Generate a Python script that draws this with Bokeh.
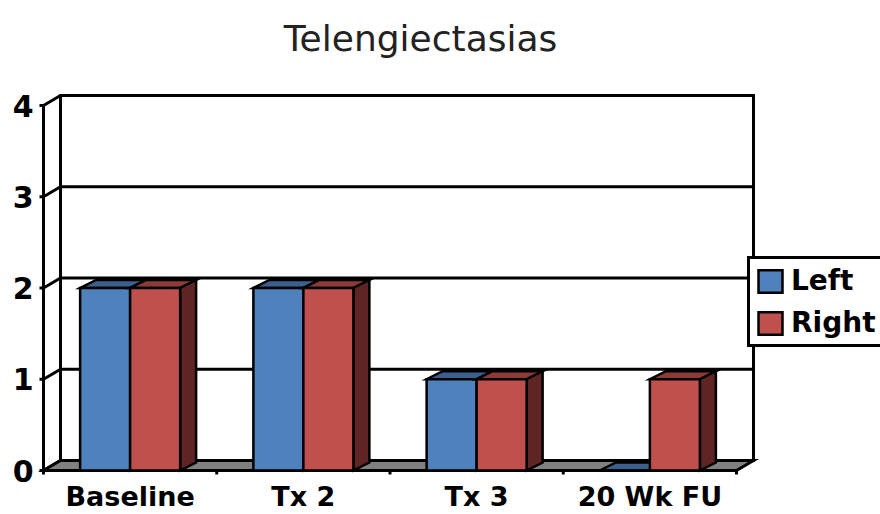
import numpy as np
from bokeh.plotting import figure
from bokeh.models import Range1d, Label, Legend, LegendItem
from bokeh.core.properties import value
from bokeh.embed import file_html
from bokeh.resources import INLINE

# ---- data ----
title_text = "Telengiectasias"
categories = ["Baseline", "Tx 2", "Tx 3", "20 Wk FU"]
left_values = [2, 2, 1, 0]
right_values = [2, 2, 1, 1]
series_names = ["Left", "Right"]
y_ticks = [0, 1, 2, 3, 4]

# ---- styling / geometry ----
W, H = 880, 514
PX_X = 173.25   # pixels per category
PX_Y = 91.25    # pixels per value unit
ORIGIN_X = 43   # canvas px from left edge to the front value axis
ORIGIN_Y = 44   # canvas px from bottom edge to the front floor line
FONT = "DejaVu Sans"


def ux(px):
    return px / PX_X


def uy(px):
    return px / PX_Y


n = len(categories)
ymax = max(y_ticks)
WDX, WDY = ux(17), uy(10)   # wall depth
BDX, BDY = ux(16), uy(8)    # bar depth
BW = ux(50)                 # bar width

p = figure(width=W, height=H,
           x_range=Range1d(-ux(ORIGIN_X), ux(W - ORIGIN_X)),
           y_range=Range1d(-uy(ORIGIN_Y), uy(H - ORIGIN_Y)),
           x_axis_type=None, y_axis_type=None,
           toolbar_location=None, output_backend="svg",
           min_border=0, outline_line_color=None)
p.background_fill_color = "white"
p.border_fill_color = "white"

LW = 3
# back wall
p.quad(left=WDX, right=n + WDX, bottom=WDY, top=ymax + WDY,
       fill_color="white", line_color="black", line_width=LW, line_join="miter")
# gridlines on back wall
gv = np.array(y_ticks[1:], dtype=float)
p.segment(x0=np.full(len(gv), WDX), y0=gv + WDY, x1=np.full(len(gv), n + WDX), y1=gv + WDY,
          line_color="black", line_width=LW)
# gridlines on side wall (diagonals)
tv = np.array(y_ticks, dtype=float)
p.segment(x0=np.zeros(len(tv)), y0=tv, x1=np.full(len(tv), WDX), y1=tv + WDY,
          line_color="black", line_width=LW)
# floor
p.patch([0, n, n + WDX, WDX], [0, 0, WDY, WDY], fill_color="#808080",
        line_color="black", line_width=LW, line_join="miter")
# front value axis + ticks
p.segment(x0=[0], y0=[0], x1=[0], y1=[ymax], line_color="black", line_width=LW)
p.segment(x0=np.full(len(tv), -ux(4)), y0=tv, x1=np.zeros(len(tv)), y1=tv,
          line_color="black", line_width=LW)
# category axis + ticks
p.segment(x0=[0], y0=[0], x1=[n], y1=[0], line_color="black", line_width=LW)
cb = np.arange(n + 1, dtype=float)
p.segment(x0=cb, y0=np.zeros(n + 1), x1=cb, y1=np.full(n + 1, -uy(4)),
          line_color="black", line_width=LW)

centers = np.arange(n) + 0.5


def draw_series(x0, x1, vals, front, top_c, side_c):
    vals = np.asarray(vals, dtype=float)
    top_xs = [[a, b, b + BDX, a + BDX] for a, b in zip(x0, x1)]
    top_ys = [[v, v, v + BDY, v + BDY] for v in vals]
    side_xs = [[b, b + BDX, b + BDX, b] for b in x1]
    side_ys = [[0, BDY, v + BDY, v] for v in vals]
    p.patches(top_xs, top_ys, fill_color=top_c, line_color="black", line_width=2.5, line_join="miter")
    p.patches(side_xs, side_ys, fill_color=side_c, line_color="black", line_width=2.5, line_join="miter")
    return p.quad(left=x0, right=x1, bottom=np.zeros(len(vals)), top=vals,
                  fill_color=front, line_color="black", line_width=2.5, line_join="miter")


r_left = draw_series(centers - BW, centers, left_values, "#4F81BD", "#3C5F8D", "#2C4668")
r_right = draw_series(centers, centers + BW, right_values, "#C0504D", "#8C3B39", "#5F2525")

# value tick labels
p.text(x=np.full(len(tv), -ux(10)), y=tv, text=[str(v) for v in y_ticks],
       text_align="right", text_baseline="middle",
       text_font=value(FONT), text_font_style="bold", text_font_size=value("30px"),
       text_color="black")
# category labels
p.text(x=centers, y=np.full(n, -uy(26)), text=categories,
       text_align="center", text_baseline="middle",
       text_font=value(FONT), text_font_style="bold", text_font_size=value("27px"),
       text_color="black")

# title
p.add_layout(Label(x=ux(420 - 43), y=uy(470 - 38), text=title_text,
                   text_align="center", text_baseline="alphabetic",
                   text_font=FONT, text_font_size="36px", text_color="#222222"))

legend = Legend(items=[LegendItem(label=series_names[0], renderers=[r_left]),
                       LegendItem(label=series_names[1], renderers=[r_right])],
                location=(747, 167),
                border_line_color="black", border_line_width=3, border_line_alpha=1.0,
                background_fill_color="white", background_fill_alpha=1.0,
                label_text_font=FONT, label_text_font_style="bold",
                label_text_font_size="28px", label_text_color="black",
                glyph_width=30, glyph_height=28, label_height=28,
                spacing=9, padding=5, margin=0, label_standoff=6)
p.add_layout(legend)

open("out.html", "w").write(file_html(p, INLINE))
